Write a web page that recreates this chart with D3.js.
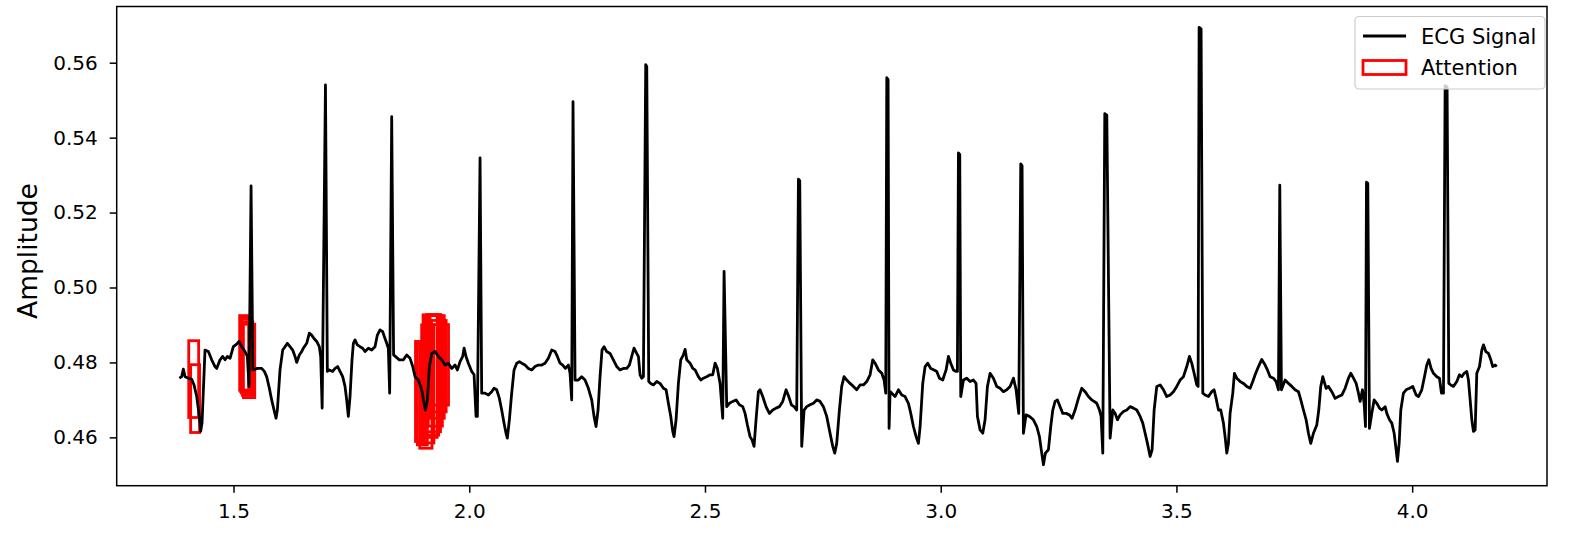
<!DOCTYPE html>
<html>
<head>
<meta charset="utf-8">
<script src="https://cdn.jsdelivr.net/npm/d3@7"></script>
<style>
  body { margin: 0; background: #fff; }
  text { font-family: "DejaVu Sans", sans-serif; }
</style>
</head>
<body>
<div id="chart"></div>
<script>
// ECG samples: [time, amplitude]
var ecgSignal = [
  [1.3851, 0.4758], [1.3900, 0.4762], [1.3936, 0.4782], [1.3971, 0.4762], [1.4042, 0.4758],
  [1.4113, 0.4755], [1.4162, 0.4740], [1.4219, 0.4709], [1.4275, 0.4656], [1.4303, 0.4616],
  [1.4332, 0.4638], [1.4395, 0.4833], [1.4466, 0.4829], [1.4537, 0.4807], [1.4607, 0.4789],
  [1.4643, 0.4784], [1.4714, 0.4807], [1.4770, 0.4816], [1.4820, 0.4807], [1.4869, 0.4816],
  [1.4926, 0.4811], [1.4996, 0.4842], [1.5067, 0.4849], [1.5116, 0.4856], [1.5173, 0.4842],
  [1.5244, 0.4829], [1.5293, 0.4816], [1.5329, 0.4736], [1.5372, 0.5271], [1.5410, 0.4780],
  [1.5505, 0.4784], [1.5597, 0.4784], [1.5654, 0.4776], [1.5703, 0.4762], [1.5760, 0.4731],
  [1.5809, 0.4700], [1.5859, 0.4673], [1.5901, 0.4651], [1.5930, 0.4673], [1.5986, 0.4780],
  [1.6043, 0.4833], [1.6092, 0.4842], [1.6142, 0.4851], [1.6198, 0.4842], [1.6255, 0.4833],
  [1.6304, 0.4816], [1.6340, 0.4800], [1.6396, 0.4820], [1.6446, 0.4829], [1.6481, 0.4838],
  [1.6552, 0.4851], [1.6608, 0.4878], [1.6658, 0.4873], [1.6707, 0.4864], [1.6764, 0.4856],
  [1.6820, 0.4842], [1.6849, 0.4816], [1.6880, 0.4678], [1.6950, 0.5541], [1.6990, 0.4776],
  [1.7032, 0.4780], [1.7103, 0.4776], [1.7153, 0.4784], [1.7209, 0.4789], [1.7259, 0.4776],
  [1.7315, 0.4762], [1.7365, 0.4736], [1.7400, 0.4700], [1.7435, 0.4656], [1.7471, 0.4709],
  [1.7513, 0.4807], [1.7542, 0.4851], [1.7577, 0.4860], [1.7626, 0.4847], [1.7683, 0.4842],
  [1.7739, 0.4838], [1.7789, 0.4829], [1.7860, 0.4838], [1.7930, 0.4833], [1.8001, 0.4842],
  [1.8051, 0.4873], [1.8107, 0.4887], [1.8164, 0.4882], [1.8213, 0.4864], [1.8249, 0.4851],
  [1.8284, 0.4838], [1.8312, 0.4718], [1.8355, 0.5456], [1.8395, 0.4820], [1.8517, 0.4807],
  [1.8603, 0.4807], [1.8673, 0.4820], [1.8744, 0.4811], [1.8801, 0.4789], [1.8850, 0.4762],
  [1.8921, 0.4753], [1.8992, 0.4727], [1.9041, 0.4691], [1.9069, 0.4673], [1.9112, 0.4700],
  [1.9154, 0.4789], [1.9204, 0.4824], [1.9274, 0.4829], [1.9345, 0.4816], [1.9416, 0.4807],
  [1.9486, 0.4793], [1.9557, 0.4798], [1.9628, 0.4784], [1.9699, 0.4793], [1.9748, 0.4780],
  [1.9805, 0.4802], [1.9861, 0.4816], [1.9890, 0.4838], [1.9932, 0.4816], [1.9981, 0.4798],
  [2.0052, 0.4776], [2.0102, 0.4767], [2.0144, 0.4656], [2.0172, 0.4656], [2.0229, 0.5346],
  [2.0264, 0.4718], [2.0335, 0.4718], [2.0405, 0.4713], [2.0476, 0.4722], [2.0526, 0.4731],
  [2.0582, 0.4727], [2.0639, 0.4704], [2.0688, 0.4673], [2.0738, 0.4638], [2.0780, 0.4611],
  [2.0808, 0.4598], [2.0851, 0.4647], [2.0900, 0.4718], [2.0950, 0.4780], [2.1007, 0.4798],
  [2.1063, 0.4802], [2.1113, 0.4798], [2.1183, 0.4793], [2.1254, 0.4784], [2.1325, 0.4780],
  [2.1395, 0.4789], [2.1466, 0.4793], [2.1537, 0.4793], [2.1607, 0.4798], [2.1678, 0.4811],
  [2.1749, 0.4833], [2.1820, 0.4829], [2.1869, 0.4816], [2.1926, 0.4798], [2.1982, 0.4793],
  [2.2039, 0.4784], [2.2102, 0.4793], [2.2138, 0.4771], [2.2173, 0.4700], [2.2201, 0.5496],
  [2.2244, 0.4753], [2.2314, 0.4753], [2.2385, 0.4762], [2.2456, 0.4753], [2.2527, 0.4731],
  [2.2597, 0.4700], [2.2647, 0.4656], [2.2689, 0.4629], [2.2732, 0.4673], [2.2774, 0.4762],
  [2.2816, 0.4833], [2.2859, 0.4842], [2.2915, 0.4829], [2.2986, 0.4824], [2.3057, 0.4807],
  [2.3128, 0.4789], [2.3198, 0.4780], [2.3269, 0.4784], [2.3340, 0.4784], [2.3396, 0.4793],
  [2.3446, 0.4816], [2.3495, 0.4838], [2.3552, 0.4824], [2.3588, 0.4816], [2.3623, 0.4767],
  [2.3658, 0.4758], [2.3694, 0.4762], [2.3743, 0.5595], [2.3765, 0.5590], [2.3807, 0.4749],
  [2.3849, 0.4744], [2.3906, 0.4740], [2.3977, 0.4749], [2.4047, 0.4744], [2.4118, 0.4731],
  [2.4175, 0.4727], [2.4224, 0.4691], [2.4274, 0.4656], [2.4316, 0.4616], [2.4344, 0.4602],
  [2.4387, 0.4647], [2.4436, 0.4744], [2.4486, 0.4807], [2.4542, 0.4820], [2.4578, 0.4835],
  [2.4613, 0.4807], [2.4684, 0.4798], [2.4740, 0.4784], [2.4790, 0.4780], [2.4860, 0.4762],
  [2.4910, 0.4753], [2.4966, 0.4758], [2.5037, 0.4762], [2.5108, 0.4767], [2.5164, 0.4767],
  [2.5214, 0.4798], [2.5263, 0.4784], [2.5320, 0.4744], [2.5376, 0.4651], [2.5405, 0.5043],
  [2.5461, 0.4682], [2.5518, 0.4691], [2.5589, 0.4696], [2.5659, 0.4700], [2.5730, 0.4687],
  [2.5801, 0.4682], [2.5850, 0.4664], [2.5900, 0.4633], [2.5956, 0.4602], [2.5999, 0.4593],
  [2.6041, 0.4576], [2.6083, 0.4647], [2.6133, 0.4722], [2.6168, 0.4727], [2.6225, 0.4709],
  [2.6295, 0.4682], [2.6366, 0.4664], [2.6437, 0.4673], [2.6508, 0.4678], [2.6578, 0.4682],
  [2.6649, 0.4696], [2.6720, 0.4727], [2.6776, 0.4709], [2.6833, 0.4687], [2.6889, 0.4682],
  [2.6946, 0.4673], [2.6982, 0.5289], [2.7010, 0.5285], [2.7052, 0.4576], [2.7102, 0.4673],
  [2.7158, 0.4682], [2.7229, 0.4687], [2.7300, 0.4691], [2.7370, 0.4700], [2.7441, 0.4696],
  [2.7512, 0.4682], [2.7582, 0.4656], [2.7653, 0.4611], [2.7710, 0.4576], [2.7752, 0.4558],
  [2.7794, 0.4584], [2.7851, 0.4673], [2.7900, 0.4736], [2.7950, 0.4762], [2.8007, 0.4753],
  [2.8077, 0.4744], [2.8148, 0.4736], [2.8219, 0.4727], [2.8289, 0.4740], [2.8361, 0.4740],
  [2.8431, 0.4749], [2.8502, 0.4767], [2.8559, 0.4807], [2.8608, 0.4798], [2.8679, 0.4780],
  [2.8750, 0.4771], [2.8799, 0.4753], [2.8834, 0.4718], [2.8856, 0.5560], [2.8884, 0.5555],
  [2.8905, 0.4624], [2.8926, 0.4722], [2.8962, 0.4718], [2.9032, 0.4709], [2.9103, 0.4727],
  [2.9174, 0.4713], [2.9244, 0.4709], [2.9315, 0.4691], [2.9365, 0.4664], [2.9421, 0.4629],
  [2.9478, 0.4602], [2.9527, 0.4584], [2.9563, 0.4629], [2.9619, 0.4744], [2.9669, 0.4789],
  [2.9725, 0.4798], [2.9789, 0.4784], [2.9860, 0.4780], [2.9916, 0.4776], [2.9973, 0.4758],
  [3.0043, 0.4753], [3.0114, 0.4780], [3.0164, 0.4816], [3.0213, 0.4798], [3.0270, 0.4780],
  [3.0326, 0.4776], [3.0354, 0.4776], [3.0376, 0.5359], [3.0404, 0.5355], [3.0425, 0.4709],
  [3.0482, 0.4753], [3.0552, 0.4758], [3.0623, 0.4749], [3.0694, 0.4753], [3.0750, 0.4744],
  [3.0779, 0.4656], [3.0835, 0.4620], [3.0892, 0.4611], [3.0941, 0.4647], [3.0991, 0.4736],
  [3.1047, 0.4771], [3.1118, 0.4758], [3.1189, 0.4736], [3.1259, 0.4731], [3.1330, 0.4722],
  [3.1401, 0.4727], [3.1472, 0.4736], [3.1542, 0.4758], [3.1599, 0.4727], [3.1655, 0.4664],
  [3.1698, 0.5330], [3.1726, 0.5325], [3.1754, 0.4611], [3.1810, 0.4660], [3.1881, 0.4656],
  [3.1966, 0.4647], [3.2037, 0.4629], [3.2094, 0.4602], [3.2143, 0.4558], [3.2179, 0.4527],
  [3.2221, 0.4558], [3.2285, 0.4567], [3.2334, 0.4629], [3.2377, 0.4673], [3.2426, 0.4696],
  [3.2476, 0.4700], [3.2532, 0.4682], [3.2589, 0.4664], [3.2659, 0.4664], [3.2730, 0.4660],
  [3.2787, 0.4651], [3.2850, 0.4673], [3.2921, 0.4704], [3.2992, 0.4731], [3.3062, 0.4722],
  [3.3133, 0.4709], [3.3204, 0.4700], [3.3310, 0.4691], [3.3367, 0.4673], [3.3402, 0.4656],
  [3.3438, 0.4558], [3.3480, 0.5464], [3.3523, 0.5460], [3.3593, 0.4598], [3.3650, 0.4673],
  [3.3699, 0.4664], [3.3749, 0.4647], [3.3805, 0.4660], [3.3876, 0.4669], [3.3947, 0.4673],
  [3.4017, 0.4682], [3.4088, 0.4678], [3.4159, 0.4673], [3.4230, 0.4656], [3.4286, 0.4638],
  [3.4336, 0.4611], [3.4385, 0.4584], [3.4442, 0.4549], [3.4484, 0.4567], [3.4527, 0.4673],
  [3.4583, 0.4736], [3.4654, 0.4740], [3.4725, 0.4727], [3.4795, 0.4709], [3.4866, 0.4713],
  [3.4937, 0.4722], [3.5007, 0.4736], [3.5078, 0.4753], [3.5149, 0.4762], [3.5219, 0.4789],
  [3.5276, 0.4816], [3.5325, 0.4798], [3.5375, 0.4771], [3.5431, 0.4740], [3.5460, 0.4736],
  [3.5481, 0.5694], [3.5523, 0.5690], [3.5559, 0.4718], [3.5608, 0.4713], [3.5679, 0.4709],
  [3.5750, 0.4722], [3.5799, 0.4727], [3.5841, 0.4704], [3.5891, 0.4673], [3.5940, 0.4673],
  [3.5997, 0.4638], [3.6032, 0.4602], [3.6068, 0.4558], [3.6103, 0.4584], [3.6138, 0.4664],
  [3.6195, 0.4718], [3.6230, 0.4771], [3.6280, 0.4758], [3.6351, 0.4749], [3.6421, 0.4744],
  [3.6492, 0.4736], [3.6563, 0.4731], [3.6619, 0.4749], [3.6669, 0.4767], [3.6740, 0.4789],
  [3.6810, 0.4808], [3.6881, 0.4793], [3.6930, 0.4780], [3.6987, 0.4762], [3.7058, 0.4758],
  [3.7114, 0.4749], [3.7164, 0.4727], [3.7192, 0.5273], [3.7227, 0.4727], [3.7305, 0.4753],
  [3.7376, 0.4744], [3.7447, 0.4736], [3.7517, 0.4727], [3.7588, 0.4722], [3.7638, 0.4700],
  [3.7694, 0.4673], [3.7751, 0.4647], [3.7800, 0.4611], [3.7849, 0.4584], [3.7906, 0.4611],
  [3.7977, 0.4633], [3.8019, 0.4673], [3.8061, 0.4736], [3.8104, 0.4762], [3.8175, 0.4731],
  [3.8225, 0.4736], [3.8295, 0.4722], [3.8366, 0.4704], [3.8437, 0.4709], [3.8508, 0.4713],
  [3.8578, 0.4731], [3.8649, 0.4758], [3.8698, 0.4771], [3.8755, 0.4758], [3.8812, 0.4744],
  [3.8861, 0.4718], [3.8896, 0.4696], [3.8946, 0.4727], [3.8981, 0.4691], [3.9010, 0.4629],
  [3.9031, 0.5281], [3.9059, 0.5278], [3.9094, 0.4624], [3.9144, 0.4664], [3.9193, 0.4700],
  [3.9250, 0.4691], [3.9306, 0.4678], [3.9356, 0.4673], [3.9427, 0.4682], [3.9462, 0.4664],
  [3.9519, 0.4647], [3.9568, 0.4638], [3.9618, 0.4611], [3.9660, 0.4567], [3.9688, 0.4536],
  [3.9724, 0.4584], [3.9759, 0.4673], [3.9815, 0.4718], [3.9872, 0.4727], [3.9943, 0.4731],
  [4.0013, 0.4736], [4.0084, 0.4713], [4.0134, 0.4709], [4.0204, 0.4727], [4.0261, 0.4762],
  [4.0310, 0.4793], [4.0353, 0.4807], [4.0402, 0.4784], [4.0452, 0.4771], [4.0523, 0.4762],
  [4.0579, 0.4758], [4.0621, 0.4718], [4.0664, 0.4718], [4.0699, 0.5539], [4.0741, 0.5535],
  [4.0777, 0.4744], [4.0819, 0.4740], [4.0876, 0.4736], [4.0947, 0.4749], [4.1003, 0.4767],
  [4.1053, 0.4762], [4.1102, 0.4771], [4.1159, 0.4776], [4.1194, 0.4753], [4.1230, 0.4700],
  [4.1265, 0.4647], [4.1300, 0.4616], [4.1336, 0.4620], [4.1371, 0.4771], [4.1428, 0.4789],
  [4.1477, 0.4833], [4.1512, 0.4847], [4.1562, 0.4829], [4.1619, 0.4824], [4.1668, 0.4807],
  [4.1710, 0.4789], [4.1760, 0.4793], [4.1795, 0.4789]
];

// attention windows (time start/end, amplitude low/high)
var attStart = [1.405, 1.409,
  1.513, 1.515, 1.517, 1.519, 1.521,
  1.886, 1.890, 1.895, 1.899, 1.902, 1.906, 1.910, 1.913, 1.917, 1.920, 1.924];
var attEnd = [1.426, 1.428,
  1.532, 1.535, 1.537, 1.541, 1.545,
  1.905, 1.911, 1.921, 1.925, 1.932, 1.935, 1.939, 1.943, 1.947, 1.951, 1.956];
var attLow = [0.4653, 0.4613,
  0.4726, 0.4722, 0.4718, 0.4712, 0.4706,
  0.4589, 0.4580, 0.4571, 0.4585, 0.4600, 0.4606, 0.4615, 0.4630, 0.4651, 0.4668, 0.4686];
var attHigh = [0.4858, 0.4794,
  0.4925, 0.4920, 0.4915, 0.4908, 0.4902,
  0.4856, 0.4850, 0.4847, 0.4900, 0.4927, 0.4925, 0.4928, 0.4925, 0.4925, 0.4912, 0.4901];

var xTicks = [1.5, 2.0, 2.5, 3.0, 3.5, 4.0];
var yTicks = [0.46, 0.48, 0.50, 0.52, 0.54, 0.56];
var legendLabels = ["ECG Signal", "Attention"];

var svgWidth = 1578;
var svgHeight = 539;

var margin = {
  top: 6.5,
  right: 31,
  bottom: 53.3,
  left: 116.7
};

var width = svgWidth - margin.left - margin.right;
var height = svgHeight - margin.top - margin.bottom;

var svg = d3.select("#chart")
  .append("svg")
  .attr("width", svgWidth)
  .attr("height", svgHeight);

var chartGroup = svg.append("g")
  .attr("transform", `translate(${margin.left}, ${margin.top})`);

var xLinearScale = d3.scaleLinear()
  .domain([1.2522, 4.286])
  .range([0, width]);

var yLinearScale = d3.scaleLinear()
  .domain([0.4471, 0.5750])
  .range([height, 0]);

chartGroup.append("clipPath")
  .attr("id", "plot-clip")
  .append("rect")
  .attr("width", width)
  .attr("height", height);

var plotArea = chartGroup.append("g")
  .attr("clip-path", "url(#plot-clip)");

// attention boxes sit under the signal
plotArea.selectAll(".att")
  .data(attStart)
  .enter()
  .append("rect")
  .attr("class", "att")
  .attr("x", (d, i) => xLinearScale(attStart[i]))
  .attr("width", (d, i) => xLinearScale(attEnd[i]) - xLinearScale(attStart[i]))
  .attr("y", (d, i) => yLinearScale(attHigh[i]))
  .attr("height", (d, i) => yLinearScale(attLow[i]) - yLinearScale(attHigh[i]))
  .attr("fill", "none")
  .attr("stroke", "red")
  .attr("stroke-width", 2.8);

var line = d3.line()
  .x(d => xLinearScale(d[0]))
  .y(d => yLinearScale(d[1]));

plotArea.append("path")
  .datum(ecgSignal)
  .attr("d", line)
  .attr("fill", "none")
  .attr("stroke", "black")
  .attr("stroke-width", 2.8)
  .attr("stroke-linejoin", "round");

// axes
var bottomAxis = d3.axisBottom(xLinearScale)
  .tickValues(xTicks)
  .tickFormat(d3.format(".1f"))
  .tickSize(7)
  .tickPadding(11);

var leftAxis = d3.axisLeft(yLinearScale)
  .tickValues(yTicks)
  .tickFormat(d3.format(".2f"))
  .tickSize(7)
  .tickPadding(12);

var xAxis = chartGroup.append("g")
  .attr("transform", `translate(0, ${height})`)
  .call(bottomAxis);

var yAxis = chartGroup.append("g")
  .call(leftAxis);

[xAxis, yAxis].forEach(function(ax) {
  ax.select(".domain").remove();
  ax.selectAll("line").attr("stroke", "black").attr("stroke-width", 1.5);
  ax.selectAll("text")
    .attr("fill", "black")
    .style("font-family", "DejaVu Sans")
    .style("font-size", "20px");
});

chartGroup.append("rect")
  .attr("width", width)
  .attr("height", height)
  .attr("fill", "none")
  .attr("stroke", "black")
  .attr("stroke-width", 1.5);

chartGroup.append("text")
  .attr("transform", `translate(${37 - margin.left}, ${251 - margin.top}) rotate(-90)`)
  .attr("text-anchor", "middle")
  .style("font-size", "26.5px")
  .text("Amplitude");

// legend
var legend = svg.append("g");

legend.append("rect")
  .attr("x", 1355)
  .attr("y", 16.5)
  .attr("width", 190)
  .attr("height", 72.5)
  .attr("rx", 4)
  .attr("fill", "white")
  .attr("fill-opacity", 0.8)
  .attr("stroke", "#cccccc")
  .attr("stroke-width", 1.2);

legend.append("line")
  .attr("x1", 1363)
  .attr("x2", 1406)
  .attr("y1", 36)
  .attr("y2", 36)
  .attr("stroke", "black")
  .attr("stroke-width", 2.8);

legend.append("rect")
  .attr("x", 1363)
  .attr("y", 60.5)
  .attr("width", 43)
  .attr("height", 14)
  .attr("fill", "none")
  .attr("stroke", "red")
  .attr("stroke-width", 2.8);

legend.selectAll(".legend-label")
  .data(legendLabels)
  .enter()
  .append("text")
  .attr("class", "legend-label")
  .attr("x", 1421)
  .attr("y", (d, i) => 43.5 + i * 31.5)
  .style("font-size", "21px")
  .text(d => d);
</script>
</body>
</html>
